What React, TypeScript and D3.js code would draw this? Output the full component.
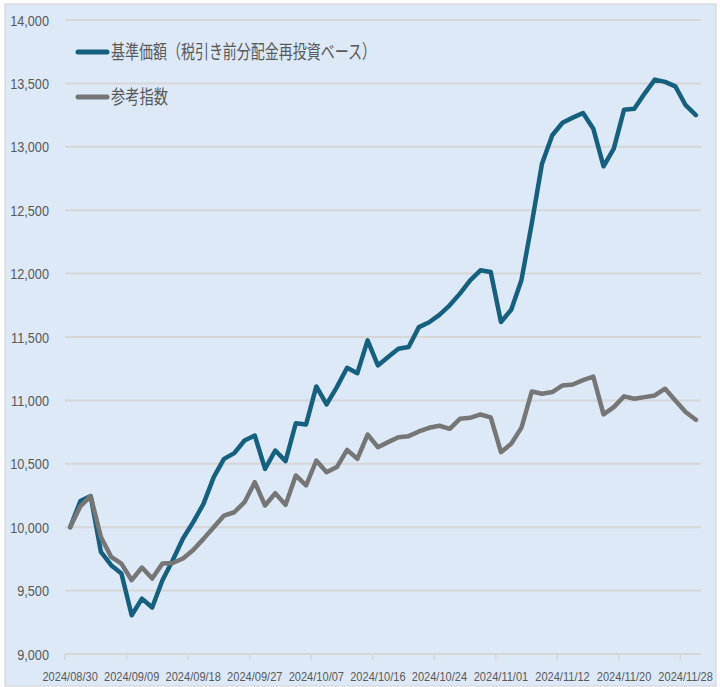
import React from "react";
import * as d3 from "d3";

const dates = [
  "2024/08/30","2024/09/02","2024/09/03","2024/09/04","2024/09/05","2024/09/06",
  "2024/09/09","2024/09/10","2024/09/11","2024/09/12","2024/09/13",
  "2024/09/17","2024/09/18","2024/09/19","2024/09/20",
  "2024/09/24","2024/09/25","2024/09/26","2024/09/27",
  "2024/09/30","2024/10/01","2024/10/02","2024/10/03","2024/10/04",
  "2024/10/07","2024/10/08","2024/10/09","2024/10/10","2024/10/11",
  "2024/10/15","2024/10/16","2024/10/17","2024/10/18",
  "2024/10/21","2024/10/22","2024/10/23","2024/10/24","2024/10/25",
  "2024/10/28","2024/10/29","2024/10/30","2024/10/31","2024/11/01",
  "2024/11/05","2024/11/06","2024/11/07","2024/11/08",
  "2024/11/11","2024/11/12","2024/11/13","2024/11/14","2024/11/15",
  "2024/11/18","2024/11/19","2024/11/20","2024/11/21","2024/11/22",
  "2024/11/25","2024/11/26","2024/11/27","2024/11/28","2024/11/29",
];

const fundNav = [
  10000,10207,10245,9805,9700,9635,9306,9437,9367,9582,9740,9911,
  10040,10184,10395,10539,10584,10684,10723,10460,10605,10521,10820,10810,
  11110,10968,11105,11257,11215,11473,11276,11342,11407,11421,11578,11616,
  11675,11750,11842,11947,12026,12013,11618,11715,11950,12394,12867,13091,
  13190,13230,13267,13143,12846,12986,13293,13300,13420,13530,13512,13477,13328,13249,
];

const refIndex = [
  10000,10165,10245,9923,9766,9713,9582,9682,9595,9713,9718,9753,
  9820,9908,10000,10092,10118,10197,10355,10171,10268,10176,10408,10329,
  10526,10434,10474,10610,10539,10731,10631,10671,10710,10718,10755,10784,
  10800,10776,10855,10863,10889,10866,10592,10658,10785,11070,11053,11066,
  11118,11125,11160,11188,10890,10947,11032,11013,11026,11039,11092,11000,10908,10847,
];

const yTicks = [9000, 9500, 10000, 10500, 11000, 11500, 12000, 12500, 13000, 13500, 14000];
const labelEvery = 6;

const seriesNames = ["基準価額（税引き前分配金再投資ベース）", "参考指数"];
const seriesColors = ["#16607f", "#767676"];

export default function App() {
  const W = 720, H = 687;
  const x = d3.scaleBand<string>().domain(dates).range([65, 701]).paddingInner(0).paddingOuter(0);
  const y = d3.scaleLinear().domain([9000, 14000]).range([654, 20]);
  const bw = x.bandwidth();
  const line = d3
    .line<number>()
    .x((_, i) => (x(dates[i]) as number) + bw / 2)
    .y((v) => y(v));
  const fmt = d3.format(",");
  const textColor = "#595959";
  const sx = 0.82;

  const tickIdx = dates.map((_, i) => i).filter((i) => i % labelEvery === 0);

  return (
    <svg width={W} height={H} style={{ position: "absolute", left: 0, top: 0 }}>
      <rect x={0} y={0} width={W} height={H} fill="#ffffff" />
      <rect x={5} y={4} width={711} height={682} fill="#dde9f6" stroke="#d0d0d0" strokeWidth={1} />
      {yTicks.map((t) => (
        <g key={t}>
          <line x1={65} x2={701} y1={y(t)} y2={y(t)} stroke="#d6d6d6" strokeWidth={2} />
          <text
            transform={`translate(49,${y(t) + 5.5}) scale(${sx},1)`}
            textAnchor="end"
            fontFamily="'Liberation Sans', Arial, sans-serif"
            fontSize={15.5}
            fill={textColor}
          >
            {fmt(t)}
          </text>
        </g>
      ))}
      {tickIdx.map((i) => {
        const xl = x(dates[i]) as number;
        return (
          <g key={i}>
            <line x1={xl} x2={xl} y1={654} y2={660} stroke="#d6d6d6" strokeWidth={1.5} />
            <text
              transform={`translate(${xl + bw / 2},${681}) scale(${sx},1)`}
              textAnchor="middle"
              fontFamily="'Liberation Sans', Arial, sans-serif"
              fontSize={13.5}
              fill={textColor}
            >
              {dates[i]}
            </text>
          </g>
        );
      })}
      <path d={line(fundNav) || ""} fill="none" stroke={seriesColors[0]} strokeWidth={4.5} strokeLinejoin="round" strokeLinecap="round" />
      <path d={line(refIndex) || ""} fill="none" stroke={seriesColors[1]} strokeWidth={4.5} strokeLinejoin="round" strokeLinecap="round" />
      {seriesNames.map((n, k) => {
        const ly = k === 0 ? 52 : 97;
        return (
          <g key={n}>
            <line x1={78} x2={107} y1={ly} y2={ly} stroke={seriesColors[k]} strokeWidth={5} strokeLinecap="round" />
            <text
              x={111}
              y={ly + 7}
              fontFamily="'Noto Sans CJK JP', sans-serif"
              fontSize={19}
              fill={textColor}
              textLength={k === 0 ? 265 : 57}
              lengthAdjust="spacingAndGlyphs"
            >
              {n}
            </text>
          </g>
        );
      })}
    </svg>
  );
}
